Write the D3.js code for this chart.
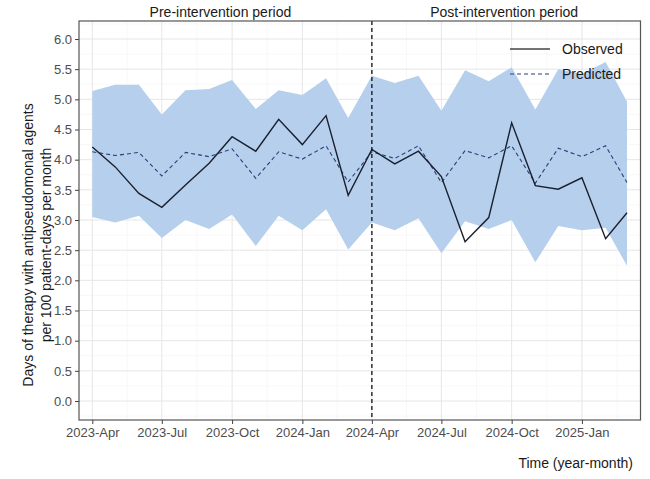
<!DOCTYPE html>
<html>
<head>
<meta charset="utf-8">
<script src="https://cdn.jsdelivr.net/npm/d3@7/dist/d3.min.js"></script>
<style>
  html, body { margin: 0; padding: 0; background: #fff; }
  svg { display: block; font-family: "Liberation Sans", Arial, sans-serif; }
</style>
</head>
<body>
<svg id="chart" width="650" height="479"></svg>
<script>
// monthly series, 2023-Apr .. 2025-Mar
var months = ['2023-04','2023-05','2023-06','2023-07','2023-08','2023-09','2023-10','2023-11','2023-12',
  '2024-01','2024-02','2024-03','2024-04','2024-05','2024-06','2024-07','2024-08','2024-09','2024-10',
  '2024-11','2024-12','2025-01','2025-02','2025-03'];
var observed = [4.21, 3.88, 3.44, 3.21, 3.58, 3.94, 4.38, 4.14, 4.67, 4.25, 4.73, 3.41,
  4.17, 3.93, 4.14, 3.72, 2.64, 3.04, 4.61, 3.57, 3.51, 3.70, 2.69, 3.12];
var predicted = [4.13, 4.07, 4.12, 3.73, 4.12, 4.05, 4.18, 3.69, 4.13, 4.01, 4.23, 3.63,
  4.13, 4.02, 4.23, 3.62, 4.15, 4.03, 4.23, 3.61, 4.19, 4.05, 4.23, 3.62];
var upper = [5.14, 5.24, 5.24, 4.75, 5.15, 5.17, 5.32, 4.84, 5.15, 5.07, 5.35, 4.69,
  5.39, 5.27, 5.39, 4.81, 5.48, 5.30, 5.53, 4.83, 5.50, 5.42, 5.62, 4.96];
var lower = [3.05, 2.96, 3.07, 2.70, 3.00, 2.85, 3.09, 2.57, 3.07, 2.83, 3.18, 2.51,
  2.96, 2.83, 3.03, 2.45, 2.98, 2.85, 3.00, 2.30, 2.90, 2.83, 2.87, 2.24];
var xTicks = ['2023-04','2023-07','2023-10','2024-01','2024-04','2024-07','2024-10','2025-01'];
var yTicks = [0, 0.5, 1, 1.5, 2, 2.5, 3, 3.5, 4, 4.5, 5, 5.5, 6];
var interventionMonth = '2024-04';
var periods = ['Pre-intervention period', 'Post-intervention period'];
var legendItems = ['Observed', 'Predicted'];

(function () {
  'use strict';
  var parse = d3.timeParse('%Y-%m');
  var fmt = d3.timeFormat('%Y-%b');
  var svg = d3.select('#chart');

  var P = { left: 79, right: 640.5, top: 21, bottom: 420 };
  var data = months.map(function (m, i) {
    return { date: parse(m), obs: observed[i], pred: predicted[i], hi: upper[i], lo: lower[i] };
  });

  var x = d3.scaleTime().domain([parse(months[0]), parse(months[months.length - 1])]).range([92.3, 627]);
  var y = d3.scaleLinear().domain([0, 6]).range([401, 39]);

  // grid
  var grid = svg.append('g');
  var xMajor = xTicks.map(parse);
  var xMinor = [];
  for (var i = 0; i < xMajor.length; i++) {
    var a = x(xMajor[i]);
    var b = i < xMajor.length - 1 ? x(xMajor[i + 1]) : a + (a - x(xMajor[i - 1]));
    xMinor.push((a + b) / 2);
  }
  xMinor.push(x(xMajor[0]) - (x(xMajor[1]) - x(xMajor[0])) / 2);
  var yMinor = d3.range(-0.25, 6.5, 0.5);
  grid.selectAll('.ymin').data(yMinor).join('line')
    .attr('x1', P.left).attr('x2', P.right)
    .attr('y1', function (d) { return y(d); }).attr('y2', function (d) { return y(d); })
    .attr('stroke', '#f3f3f3').attr('stroke-width', 0.6);
  grid.selectAll('.xmin').data(xMinor.filter(function (v) { return v > P.left && v < P.right; })).join('line')
    .attr('x1', function (d) { return d; }).attr('x2', function (d) { return d; })
    .attr('y1', P.top).attr('y2', P.bottom)
    .attr('stroke', '#f3f3f3').attr('stroke-width', 0.6);
  grid.selectAll('.ymaj').data(yTicks).join('line')
    .attr('x1', P.left).attr('x2', P.right)
    .attr('y1', function (d) { return y(d); }).attr('y2', function (d) { return y(d); })
    .attr('stroke', '#e6e6e6').attr('stroke-width', 1);
  grid.selectAll('.xmaj').data(xMajor).join('line')
    .attr('x1', function (d) { return x(d); }).attr('x2', function (d) { return x(d); })
    .attr('y1', P.top).attr('y2', P.bottom)
    .attr('stroke', '#e6e6e6').attr('stroke-width', 1);

  // prediction band
  svg.append('path').datum(data)
    .attr('fill', '#b5cfec')
    .attr('d', d3.area().x(function (d) { return x(d.date); })
      .y0(function (d) { return y(d.lo); }).y1(function (d) { return y(d.hi); }));

  // predicted (dashed) and observed lines
  svg.append('path').datum(data)
    .attr('fill', 'none').attr('stroke', '#2b3f7a').attr('stroke-width', 1.1)
    .attr('stroke-dasharray', '4,3')
    .attr('d', d3.line().x(function (d) { return x(d.date); }).y(function (d) { return y(d.pred); }));
  svg.append('path').datum(data)
    .attr('fill', 'none').attr('stroke', '#1a1f2e').attr('stroke-width', 1.4)
    .attr('d', d3.line().x(function (d) { return x(d.date); }).y(function (d) { return y(d.obs); }));

  // intervention line
  var xi = x(parse(interventionMonth));
  svg.append('line').attr('x1', xi).attr('x2', xi).attr('y1', P.top).attr('y2', P.bottom)
    .attr('stroke', '#111').attr('stroke-width', 1.3).attr('stroke-dasharray', '4,3');

  // panel border
  svg.append('rect').attr('x', P.left).attr('y', P.top)
    .attr('width', P.right - P.left).attr('height', P.bottom - P.top)
    .attr('fill', 'none').attr('stroke', '#555').attr('stroke-width', 1.2);

  // axes
  var xAxis = svg.append('g').attr('transform', 'translate(0,' + P.bottom + ')')
    .call(d3.axisBottom(x).tickValues(xMajor).tickFormat(fmt).tickSize(4).tickPadding(4));
  var yAxis = svg.append('g').attr('transform', 'translate(' + P.left + ',0)')
    .call(d3.axisLeft(y).tickValues(yTicks).tickFormat(d3.format('.1f')).tickSize(4).tickPadding(3));
  [xAxis, yAxis].forEach(function (ax) {
    ax.select('.domain').remove();
    ax.selectAll('.tick line').attr('stroke', '#444');
    ax.selectAll('.tick text').attr('fill', '#4d4d4d').style('font-size', '13px')
      .style('font-family', '"Liberation Sans", Arial, sans-serif');
  });

  // period headers
  var mid1 = (P.left + xi) / 2 - 5, mid2 = (xi + P.right) / 2 - 2;
  svg.selectAll('.period').data(periods).join('text')
    .attr('x', function (d, i) { return i === 0 ? mid1 : mid2; }).attr('y', 17)
    .attr('text-anchor', 'middle').attr('fill', '#1a1a1a').style('font-size', '14px')
    .text(function (d) { return d; });

  // legend
  var lg = svg.append('g');
  legendItems.forEach(function (name, i) {
    var yy = 49 + i * 25;
    lg.append('line').attr('x1', 510).attr('x2', 550).attr('y1', yy).attr('y2', yy)
      .attr('stroke', i === 0 ? '#444' : '#2b3f7a').attr('stroke-width', i === 0 ? 1.5 : 1.1)
      .attr('stroke-dasharray', i === 0 ? null : '4,3');
    lg.append('text').attr('x', 562).attr('y', yy + 5).attr('fill', '#1a1a1a')
      .style('font-size', '14px').text(name);
  });

  // axis titles
  svg.append('text').attr('transform', 'translate(33,245) rotate(-90)')
    .attr('text-anchor', 'middle').attr('fill', '#1a1a1a').style('font-size', '14px')
    .text('Days of therapy with antipseudomonal agents');
  svg.append('text').attr('transform', 'translate(51,245) rotate(-90)')
    .attr('text-anchor', 'middle').attr('fill', '#1a1a1a').style('font-size', '14px')
    .text('per 100 patient-days  per month');
  svg.append('text').attr('x', 633).attr('y', 468).attr('text-anchor', 'end')
    .attr('fill', '#1a1a1a').style('font-size', '14px').text('Time (year-month)');
})();
</script>
</body>
</html>
